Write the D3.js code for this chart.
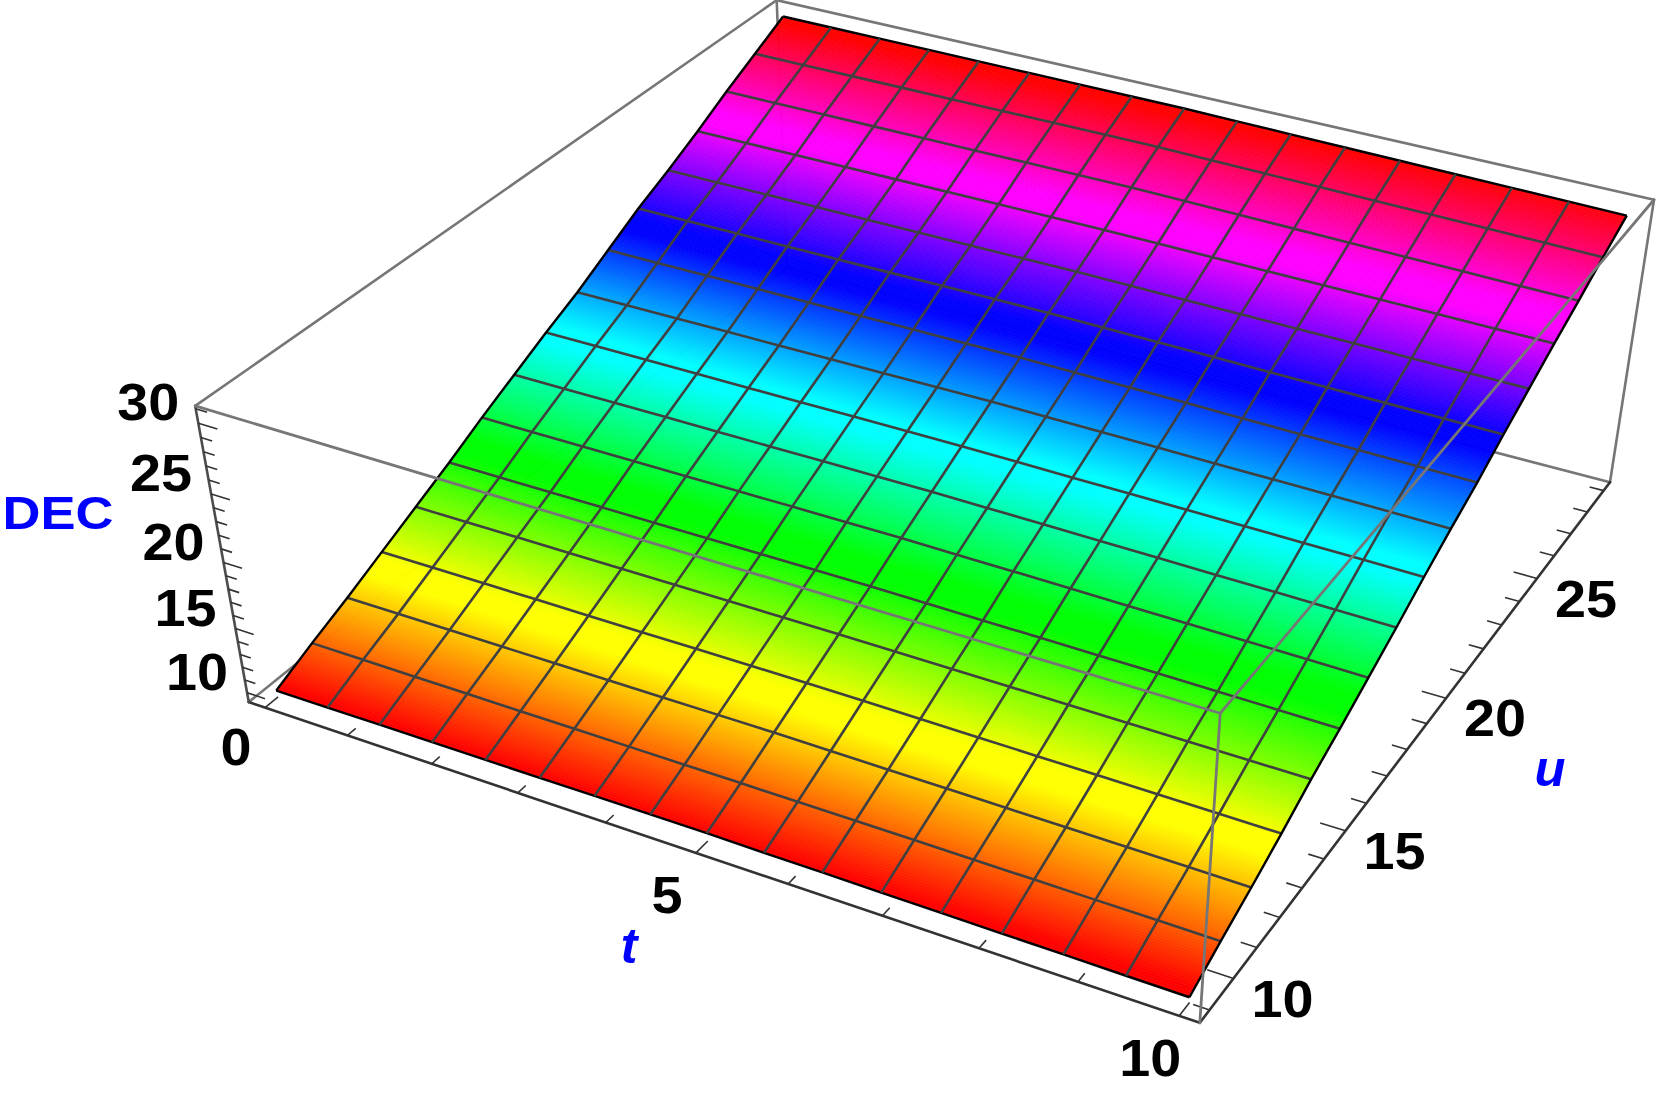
<!DOCTYPE html><html><head><meta charset="utf-8"><style>html,body{margin:0;background:#fff}svg{display:block}text{font-family:"Liberation Sans",Arial,sans-serif;font-weight:700}</style></head><body><script src="https://cdn.jsdelivr.net/npm/d3@7"></script><svg id="s" width="1661" height="1096"></svg><script>
// ---- data ----
const tMesh=[0,0.625,1.25,1.875,2.5,3.125,3.75,4.375,5,5.625,6.25,6.875,7.5,8.125,8.75,9.375,10];
const uMesh=[9,10.25,11.5,12.75,14,15.25,16.5,17.75,19,20.25,21.5,22.75,24,25.25,26.5,27.75,29];
const dec00=[9.80,9.81,9.83,9.84,9.85,9.86,9.88,9.89,9.90,9.87,9.85,9.82,9.80,9.77,9.75,9.72,9.70];
const dec01=[11.10,11.10,11.10,11.10,11.10,11.10,11.10,11.10,11.10,11.09,11.09,11.08,11.06,11.05,11.03,11.02,11.00];
const dec02=[12.30,12.31,12.33,12.34,12.35,12.36,12.38,12.39,12.40,12.38,12.35,12.33,12.30,12.28,12.25,12.23,12.20];
const dec03=[13.60,13.61,13.63,13.64,13.65,13.66,13.68,13.69,13.70,13.68,13.65,13.63,13.60,13.58,13.55,13.53,13.50];
const dec04=[14.90,14.91,14.93,14.94,14.95,14.96,14.98,14.99,15.00,14.99,14.98,14.96,14.95,14.94,14.93,14.91,14.90];
const dec05=[16.20,16.21,16.23,16.24,16.25,16.26,16.28,16.29,16.30,16.28,16.25,16.23,16.20,16.18,16.15,16.13,16.10];
const dec06=[17.60,17.61,17.63,17.64,17.65,17.66,17.68,17.69,17.70,17.66,17.63,17.59,17.55,17.51,17.48,17.44,17.40];
const dec07=[18.90,18.91,18.93,18.94,18.95,18.96,18.98,18.99,19.00,18.96,18.93,18.89,18.85,18.81,18.78,18.74,18.70];
const dec08=[20.20,20.21,20.23,20.24,20.25,20.26,20.28,20.29,20.30,20.28,20.25,20.23,20.20,20.18,20.15,20.13,20.10];
const dec09=[21.40,21.43,21.45,21.48,21.50,21.53,21.55,21.58,21.60,21.58,21.55,21.53,21.50,21.48,21.45,21.43,21.40];
const dec10=[22.80,22.81,22.83,22.84,22.85,22.86,22.88,22.89,22.90,22.86,22.83,22.79,22.75,22.71,22.68,22.64,22.60];
const dec11=[24.20,24.21,24.23,24.24,24.25,24.26,24.28,24.29,24.30,24.26,24.23,24.19,24.15,24.11,24.08,24.04,24.00];
const dec12=[25.40,25.41,25.43,25.44,25.45,25.46,25.48,25.49,25.50,25.48,25.45,25.43,25.40,25.38,25.35,25.33,25.30];
const dec13=[26.70,26.71,26.73,26.74,26.75,26.76,26.78,26.79,26.80,26.78,26.75,26.73,26.70,26.68,26.65,26.63,26.60];
const dec14=[28.10,28.11,28.13,28.14,28.15,28.16,28.18,28.19,28.20,28.15,28.10,28.05,28.00,27.95,27.90,27.85,27.80];
const dec15=[29.40,29.41,29.43,29.44,29.45,29.46,29.48,29.49,29.50,29.45,29.40,29.35,29.30,29.25,29.20,29.15,29.10];
const dec16=[30.70,30.70,30.70,30.70,30.70,30.70,30.70,30.70,30.70,30.65,30.60,30.55,30.50,30.45,30.40,30.35,30.30];
const tTicks=[0,1,2,3,4,5,6,7,8,9,10];
const uTicks=[9,10,11,12,13,14,15,16,17,18,19,20,21,22,23,24,25,26,27,28,29];
const decTicks=[10,11,12,13,14,15,16,17,18,19,20,21,22,23,24,25,26,27,28,29,30,31];
const tLabels=[0,5,10],uLabels=[10,15,20,25],decLabels=[10,15,20,25,30];
const tBox=[-0.2,10.2],uBox=[8.6,29.4],decBox=[9.25,31.2];
// camera fitted to the box of the picture
const cam=[[816.001,705.672,-67.2,248.767],[205.557,-377.371,-324.57,702.096],[-0.112574,0.212243,-0.069893,1]];
const X=d3.scaleLinear().domain(tBox).range([0,1]),Y=d3.scaleLinear().domain(uBox).range([0,1]),Z=d3.scaleLinear().domain(decBox).range([0,1]);
function pr(t,u,z){const x=X(t),y=Y(u),c=Z(z),w=cam[2][0]*x+cam[2][1]*y+cam[2][2]*c+1;return [(cam[0][0]*x+cam[0][1]*y+cam[0][2]*c+cam[0][3])/w,(cam[1][0]*x+cam[1][1]*y+cam[1][2]*c+cam[1][3])/w];}
const dec=[dec00,dec01,dec02,dec03,dec04,dec05,dec06,dec07,dec08,dec09,dec10,dec11,dec12,dec13,dec14,dec15,dec16];
const sector=d3.scaleLinear().domain([d3.min(dec.flat()),d3.max(dec.flat())]).range([0,6]).clamp(true);
const dwell=d3.scaleLinear().domain([0.06,0.94]).range([0,1]).clamp(true);
const colour=z=>{const f=sector(z),k=Math.floor(f);return d3.hsl(((k+dwell(f-k))*60)%360,1,.5).formatRgb();};
const svg=d3.select("#s"),line=d3.line();
const edge=(g,a,b,col,w)=>g.append("path").attr("d",line([pr(...a),pr(...b)])).attr("stroke",col).attr("stroke-width",w).attr("fill","none").attr("stroke-linecap","round");
const back=svg.append("g"),surf=svg.append("g"),mesh=svg.append("g"),front=svg.append("g"),lab=svg.append("g");
const [t0,t1]=tBox,[u0,u1]=uBox,[z0,z1]=decBox,G="#767676",D="#333";
edge(back,[t0,u0,z0],[t0,u1,z0],G,2.6);edge(back,[t0,u1,z0],[t1,u1,z0],G,2.6);edge(back,[t0,u1,z0],[t0,u1,z1],G,2.6);
edge(back,[t0,u0,z1],[t0,u1,z1],G,2.6);edge(back,[t0,u1,z1],[t1,u1,z1],G,2.6);edge(back,[t1,u1,z0],[t1,u1,z1],G,2.6);
edge(back,[t0,u0,z0],[t1,u0,z0],D,2.6);edge(back,[t1,u0,z0],[t1,u1,z0],D,2.6);edge(back,[t0,u0,z0],[t0,u0,z1],"#4d4d4d",2.6);
const tick=(a,b)=>back.append("path").attr("d",line([pr(...a),pr(...b)])).attr("stroke","#333").attr("stroke-width",1.6).attr("fill","none");
tTicks.forEach(t=>tick([t,u0,z0],[t,u0+(t%5?0.27:0.42),z0]));
uTicks.forEach(u=>tick([t1,u,z0],[t1-(u%5?0.16:0.26),u,z0]));
decTicks.forEach(z=>tick([t0,u0,z],[t0+(z%5?0.13:0.22),u0,z]));
// surface cells, shaded in thin strips from the vertex values
const SU=24,cells=[];
for(let i=0;i<16;i++)for(let j=0;j<16;j++)for(let a=0;a<SU;a++){
 const f=(p,w)=>{const v=p/SU,zz=(1-v)*((1-w)*dec[i][j]+w*dec[i][j+1])+v*((1-w)*dec[i+1][j]+w*dec[i+1][j+1]);return [tMesh[j]+w*(tMesh[j+1]-tMesh[j]),uMesh[i]+v*(uMesh[i+1]-uMesh[i]),zz];};
 const q=[f(a,0),f(a,1),f(a+1,1),f(a+1,0)];cells.push({pts:q.map(p=>pr(...p)),z:d3.mean(q,p=>p[2])});}
surf.selectAll("path").data(cells).join("path").attr("d",d=>line(d.pts)+"Z").attr("fill",d=>colour(d.z)).attr("stroke",d=>colour(d.z)).attr("stroke-width",.7);
// mesh
dec.forEach((r,i)=>{mesh.append("path").attr("d",line(r.map((z,j)=>pr(tMesh[j],uMesh[i],z)))).attr("fill","none").attr("stroke",i==0||i==16?"#000":"#404040").attr("stroke-width",i==0||i==16?2.4:2.6);});
tMesh.forEach((t,j)=>{mesh.append("path").attr("d",line(dec.map((r,i)=>pr(t,uMesh[i],r[j])))).attr("fill","none").attr("stroke",j==0||j==16?"#000":"#404040").attr("stroke-width",j==0||j==16?2.4:2.6);});
// front box edges over the surface
edge(front,[t0,u0,z1],[t1,u0,z1],G,2.8);edge(front,[t1,u0,z1],[t1,u1,z1],G,2.8);edge(front,[t1,u0,z0],[t1,u0,z1],G,2.8);
// labels
const txt=(p,s,fs,col,it,len)=>{const e=lab.append("text").attr("x",p[0]).attr("y",p[1]).attr("dy",".35em").attr("text-anchor","middle").attr("font-size",fs).attr("fill",col).attr("font-style",it?"italic":"normal").text(s);if(len)e.attr("textLength",len).attr("lengthAdjust","spacingAndGlyphs");};
const w=s=>String(s).length*31;
decLabels.forEach(z=>{const p=pr(t0,u0,z);txt([p[0]-50,p[1]-21],z,52,"#000",0,w(z));});
tLabels.forEach(t=>{const p=pr(t,u0,z0);txt([p[0]-29,p[1]+(t?42:39)],t,52,"#000",0,w(t));});
uLabels.forEach(u=>{const p=pr(t1,u,z0);txt([p[0]+49,p[1]+20],u,52,"#000",0,w(u));});
txt([58,513],"DEC",47,"#0000ff",0,111);
txt([629,945],"t",50,"#0000ff",1);txt([1550,768],"u",50,"#0000ff",1,31);
</script></body></html>
